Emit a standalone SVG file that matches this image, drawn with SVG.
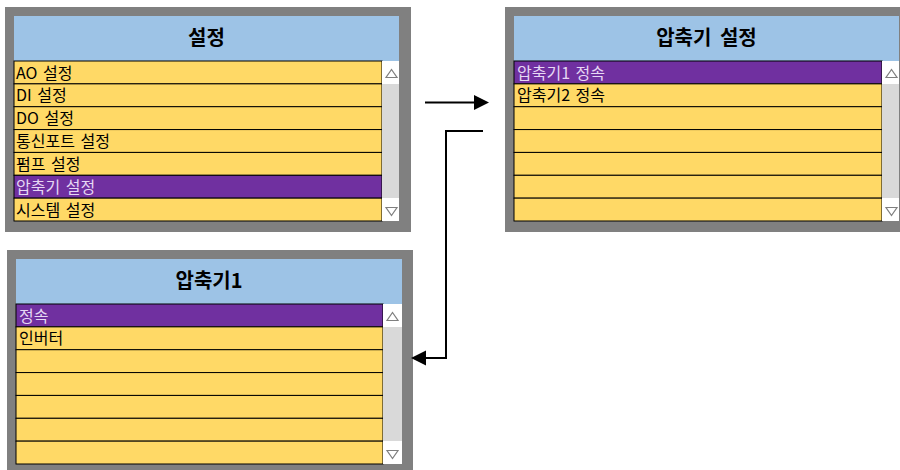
<svg xmlns="http://www.w3.org/2000/svg" width="900" height="470" viewBox="0 0 900 470">
  <style>
    .frame { fill: #808080; }
    .head { fill: #9DC3E6; }
    .htxt { font-family: "Noto Sans CJK KR", "Noto Sans", sans-serif; font-size: 20px; font-weight: bold; fill: #000; text-anchor: middle; word-spacing: 4px; }
    .row { fill: #FFD966; stroke: #000; stroke-width: 1; }
    .sel { fill: #7030A0; stroke: #000; stroke-width: 1; }
    .rtxt { font-family: "Noto Sans CJK KR", "Noto Sans", sans-serif; font-size: 16px; fill: #000; word-spacing: 2px; }
    .stxt { font-family: "Noto Sans CJK KR", "Noto Sans", sans-serif; font-size: 16px; fill: #E6D8F4; word-spacing: 2px; }
    .track { fill: #D9D9D9; }
    .btn { fill: #FFFFFF; }
    .tri { fill: none; stroke: #7F7F7F; stroke-width: 1.2; }
    .conn { fill: none; stroke: #000; stroke-width: 2; }
  </style>
  <defs>
    <marker id="arrow" markerUnits="userSpaceOnUse" markerWidth="16" markerHeight="16" refX="5" refY="7.5" orient="auto">
      <path d="M0,0 L15,7.5 L0,15 Z" fill="#000"/>
    </marker>
  </defs>

  <rect width="900" height="470" fill="#FFFFFF"/>

  <!-- Panel: 설정 -->
  <g id="panel-settings">
    <rect class="frame" x="5" y="7" width="406" height="225"/>
    <rect class="head" x="14" y="16" width="385" height="45"/>
    <text class="htxt" x="206.5" y="45">설정</text>
    <rect class="row" x="14" y="61" width="368" height="22.86"/>
    <rect class="row" x="14" y="83.86" width="368" height="22.86"/>
    <rect class="row" x="14" y="106.71" width="368" height="22.86"/>
    <rect class="row" x="14" y="129.57" width="368" height="22.86"/>
    <rect class="row" x="14" y="152.43" width="368" height="22.86"/>
    <rect class="sel" x="14" y="175.29" width="368" height="22.86"/>
    <rect class="row" x="14" y="198.14" width="368" height="22.86"/>
    <text class="rtxt" x="16" y="78.5">AO 설정</text>
    <text class="rtxt" x="16" y="101.4">DI 설정</text>
    <text class="rtxt" x="16" y="124.2">DO 설정</text>
    <text class="rtxt" x="16" y="147.1">통신포트 설정</text>
    <text class="rtxt" x="16" y="169.9">펌프 설정</text>
    <text class="stxt" x="16" y="192.8">압축기 설정</text>
    <text class="rtxt" x="16" y="215.6">시스템 설정</text>
    <rect class="track" x="382" y="61" width="17" height="160"/>
    <rect class="btn" x="382" y="61" width="17" height="23"/>
    <rect class="btn" x="382" y="198" width="17" height="23"/>
    <path class="tri" d="M386,77.5 L397,77.5 L391.5,69.5 Z"/>
    <path class="tri" d="M386,207.5 L397,207.5 L391.5,215.5 Z"/>
  </g>

  <!-- Panel: 압축기 설정 -->
  <g id="panel-compressor-settings">
    <rect class="frame" x="505" y="7" width="395" height="225"/>
    <rect class="head" x="514" y="16" width="385" height="45"/>
    <text class="htxt" x="706.5" y="45">압축기 설정</text>
    <rect class="sel" x="514" y="61" width="368" height="22.86"/>
    <rect class="row" x="514" y="83.86" width="368" height="22.86"/>
    <rect class="row" x="514" y="106.71" width="368" height="22.86"/>
    <rect class="row" x="514" y="129.57" width="368" height="22.86"/>
    <rect class="row" x="514" y="152.43" width="368" height="22.86"/>
    <rect class="row" x="514" y="175.29" width="368" height="22.86"/>
    <rect class="row" x="514" y="198.14" width="368" height="22.86"/>
    <text class="stxt" x="517" y="78.5">압축기1 정속</text>
    <text class="rtxt" x="517" y="101.4">압축기2 정속</text>
    <rect class="track" x="882" y="61" width="17" height="160"/>
    <rect class="btn" x="882" y="61" width="17" height="23"/>
    <rect class="btn" x="882" y="198" width="17" height="23"/>
    <path class="tri" d="M886,77.5 L897,77.5 L891.5,69.5 Z"/>
    <path class="tri" d="M886,207.5 L897,207.5 L891.5,215.5 Z"/>
  </g>

  <!-- Panel: 압축기1 -->
  <g id="panel-compressor1">
    <rect class="frame" x="7" y="250" width="406" height="220"/>
    <rect class="head" x="16" y="259" width="386" height="45"/>
    <text class="htxt" x="209" y="288">압축기1</text>
    <rect class="sel" x="16" y="304" width="367" height="22.86"/>
    <rect class="row" x="16" y="326.86" width="367" height="22.86"/>
    <rect class="row" x="16" y="349.71" width="367" height="22.86"/>
    <rect class="row" x="16" y="372.57" width="367" height="22.86"/>
    <rect class="row" x="16" y="395.43" width="367" height="22.86"/>
    <rect class="row" x="16" y="418.29" width="367" height="22.86"/>
    <rect class="row" x="16" y="441.14" width="367" height="22.86"/>
    <text class="stxt" x="19" y="321.5">정속</text>
    <text class="rtxt" x="19" y="344.4">인버터</text>
    <rect class="track" x="383" y="304" width="19" height="160"/>
    <rect class="btn" x="383" y="304" width="19" height="23"/>
    <rect class="btn" x="383" y="441" width="19" height="23"/>
    <path class="tri" d="M387,320.5 L398,320.5 L392.5,312.5 Z"/>
    <path class="tri" d="M387,450.5 L398,450.5 L392.5,458.5 Z"/>
  </g>

  <!-- Connectors -->
  <g id="connectors">
    <line class="conn" x1="425" y1="102.5" x2="479" y2="102.5" marker-end="url(#arrow)"/>
    <polyline class="conn" points="483,131 446,131 446,358 421,358" marker-end="url(#arrow)"/>
  </g>
</svg>
